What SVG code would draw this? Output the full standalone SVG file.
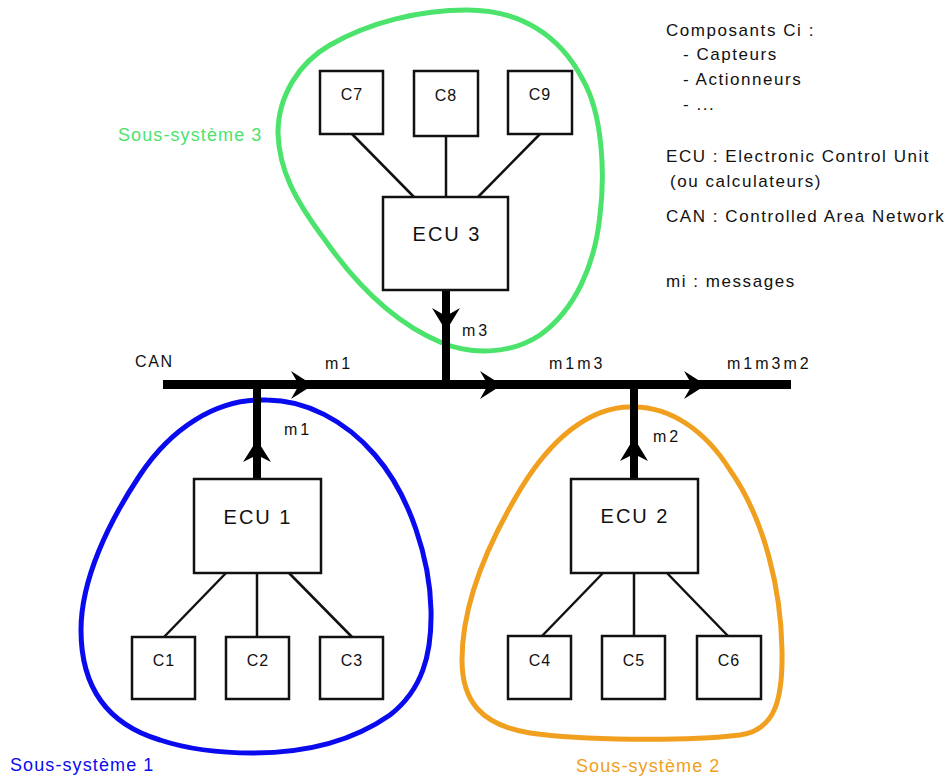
<svg xmlns="http://www.w3.org/2000/svg" width="948" height="778" viewBox="0 0 948 778">
<style>
text{font-family:"Liberation Sans",Arial,sans-serif;fill:#111}
.box{fill:#fff;stroke:#111;stroke-width:2.5}
.link{stroke:#111;stroke-width:2.5;fill:none}
.bus{stroke:#000;stroke-width:9;fill:none}
.stub{stroke:#000;stroke-width:8;fill:none}
.head{fill:#000}
.ecu{font-size:20px;letter-spacing:2px;text-anchor:middle}
.comp{font-size:16px;letter-spacing:1px;text-anchor:middle}
.msg{font-size:16px;letter-spacing:3px}
.leg{font-size:17px;letter-spacing:1.55px}
.sub{font-size:18px;letter-spacing:1.1px}
.blob{fill:none;stroke-width:5}
</style>
<g id="blobs">
<path id="blob3" class="blob" stroke="#4be36b" d="M 278,133 C 278,95 300,62 330,45 C 370,22 420,10 467,10 C 520,10 560,35 583,80 C 603,115 605,175 600,215 C 595,265 575,310 540,335 C 510,355 470,355 440,342 C 400,325 360,290 325,240 C 295,200 279,170 278,133 Z"/>
<path id="blob1" class="blob" stroke="#0a0aef" d="M 267,400 C 215,398 170,430 140,475 C 108,523 81,580 81,630 C 81,690 110,725 160,740 C 190,750 220,753 253,753 C 300,753 350,743 390,715 C 422,690 432,655 431,610 C 430,560 410,495 375,455 C 345,420 305,400 267,400 Z"/>
<path id="blob2" class="blob" stroke="#f0a01e" d="M 634,407 C 590,405 550,440 520,490 C 490,540 462,600 462,660 C 462,700 480,725 530,733 C 580,740 680,742 740,735 C 775,730 783,700 782,650 C 781,590 765,520 730,470 C 705,430 670,407 634,407 Z"/>
</g>
<g id="connectors">
<line class="bus" x1="163" y1="384.5" x2="791" y2="384.5"/>
<line class="stub" x1="446" y1="290" x2="446" y2="389"/>
<line class="stub" x1="257" y1="380" x2="257" y2="480"/>
<line class="stub" x1="634" y1="380" x2="634" y2="480"/>
<polygon class="head" points="313,385 291,371 299,385 291,399"/>
<polygon class="head" points="502,385 480,371 488,385 480,399"/>
<polygon class="head" points="706,385 684,371 692,385 684,399"/>
<polygon class="head" points="446,331 432,308 446,316 460,308"/>
<polygon class="head" points="257,440 243,462 257,455 271,462"/>
<polygon class="head" points="634,438 620,461 634,454 648,461"/>
<line class="link" x1="352" y1="134" x2="414" y2="197"/>
<line class="link" x1="446" y1="136" x2="446" y2="197"/>
<line class="link" x1="540" y1="134" x2="478" y2="197"/>
<line class="link" x1="226" y1="573" x2="164" y2="637"/>
<line class="link" x1="257" y1="573" x2="257" y2="637"/>
<line class="link" x1="289" y1="573" x2="352" y2="637"/>
<line class="link" x1="603" y1="573" x2="542" y2="636"/>
<line class="link" x1="634" y1="573" x2="634" y2="636"/>
<line class="link" x1="667" y1="573" x2="728" y2="636"/>
<text class="msg" x="135" y="367" style="letter-spacing:1.6px">CAN</text>
<text class="msg" x="325" y="369">m1</text>
<text class="msg" x="284" y="435">m1</text>
<text class="msg" x="462" y="336">m3</text>
<text class="msg" x="549" y="369">m1m3</text>
<text class="msg" x="727" y="369">m1m3m2</text>
<text class="msg" x="653" y="442">m2</text>
</g>
<g id="ecu3"><rect class="box" x="383" y="197" width="125" height="93"/><text class="ecu" x="447" y="241">ECU 3</text></g>
<g id="c7"><rect class="box" x="320" y="71" width="63" height="63"/><text class="comp" x="352" y="100">C7</text></g>
<g id="c8"><rect class="box" x="414" y="71" width="64" height="65"/><text class="comp" x="446" y="101">C8</text></g>
<g id="c9"><rect class="box" x="508" y="71" width="64" height="63"/><text class="comp" x="540" y="100">C9</text></g>
<g id="ecu1"><rect class="box" x="194" y="479" width="127" height="94"/><text class="ecu" x="258" y="524">ECU 1</text></g>
<g id="c1"><rect class="box" x="132" y="637" width="63" height="62"/><text class="comp" x="164" y="666">C1</text></g>
<g id="c2"><rect class="box" x="226" y="637" width="63" height="62"/><text class="comp" x="258" y="666">C2</text></g>
<g id="c3"><rect class="box" x="320" y="637" width="63" height="62"/><text class="comp" x="352" y="666">C3</text></g>
<g id="ecu2"><rect class="box" x="571" y="479" width="127" height="94"/><text class="ecu" x="635" y="523">ECU 2</text></g>
<g id="c4"><rect class="box" x="508" y="636" width="63" height="63"/><text class="comp" x="540" y="666">C4</text></g>
<g id="c5"><rect class="box" x="602" y="636" width="63" height="63"/><text class="comp" x="634" y="666">C5</text></g>
<g id="c6"><rect class="box" x="697" y="636" width="64" height="63"/><text class="comp" x="729" y="666">C6</text></g>
<g id="labels">
<text class="sub" x="118" y="140.5" style="fill:#4be36b">Sous-système 3</text>
<text class="sub" x="10" y="771" style="fill:#0a0aef">Sous-système 1</text>
<text class="sub" x="576" y="772" style="fill:#f0a01e">Sous-système 2</text>
</g>
<g id="legend">
<text class="leg" x="666" y="36">Composants Ci :</text>
<text class="leg" x="683" y="60">- Capteurs</text>
<text class="leg" x="683" y="85">- Actionneurs</text>
<text class="leg" x="683" y="110">- ...</text>
<text class="leg" x="666" y="162">ECU : Electronic Control Unit</text>
<text class="leg" x="670" y="187">(ou calculateurs)</text>
<text class="leg" x="666" y="222">CAN : Controlled Area Network</text>
<text class="leg" x="666" y="287">mi : messages</text>
</g>
</svg>
